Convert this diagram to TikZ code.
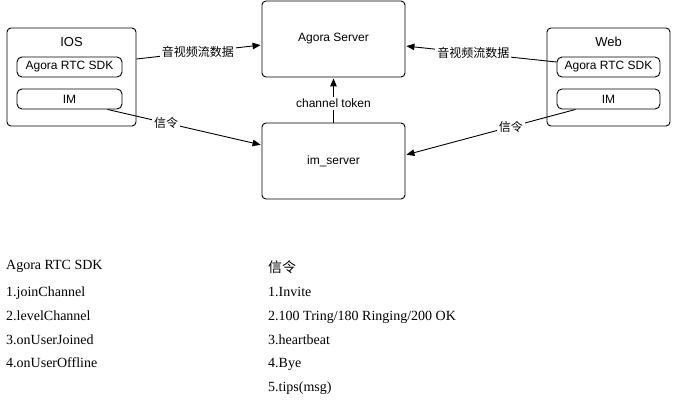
\documentclass[tikz,border=0pt]{standalone}
\usepackage{fontspec}
\setmainfont{Liberation Serif}
\setsansfont{Liberation Sans}
\newfontfamily\cjk{Noto Sans CJK SC}
\usetikzlibrary{arrows.meta}
\begin{document}
\begin{tikzpicture}[x=1pt,y=-1pt,
  box/.style={draw=black,line width=0.9pt,rounded corners=4pt,font=\sffamily\fontsize{12}{14}\selectfont,inner sep=0pt},
  inbox/.style={draw=black,line width=0.9pt,rounded corners=5pt,minimum height=20pt,font=\sffamily\fontsize{12}{14}\selectfont,inner sep=0pt},
  ttl/.style={font=\sffamily\fontsize{13}{15}\selectfont,inner sep=0pt},
  conn/.style={line width=0.9pt,shorten >=1pt,-{Triangle[length=8pt,width=6.5pt]}},
  lbl/.style={fill=white,inner sep=2pt,font=\sffamily\fontsize{12}{14}\selectfont},
  clbl/.style={fill=white,inner sep=2pt,font=\cjk\fontsize{12}{14}\selectfont},
  txt/.style={anchor=base west,inner sep=0pt,font=\rmfamily\fontsize{14}{16}\selectfont},
  ctxt/.style={anchor=base west,inner sep=0pt,font=\cjk\fontsize{14}{16}\selectfont}]
\useasboundingbox (0,0) rectangle (675,401);
% boxes
\node[box,minimum width=143pt,minimum height=76pt] (agora) at (333.5,39) {Agora Server};
\node[box,minimum width=143pt,minimum height=76pt] (imserver) at (333.5,161) {im\_server};
\node[box,minimum width=129pt,minimum height=98pt] (ios) at (71.5,77) {};
\node[box,minimum width=123pt,minimum height=98pt] (web) at (608.5,77) {};
\node[ttl] (iost) at (71.5,42) {IOS};
\node[ttl] (webt) at (608.5,42) {Web};
\node[inbox,minimum width=105pt] (iossdk) at (69.5,67) {Agora RTC SDK};
\node[inbox,minimum width=105pt] (iosim) at (69.5,99) {IM};
\node[inbox,minimum width=103pt] (websdk) at (608.5,67) {Agora RTC SDK};
\node[inbox,minimum width=103pt] (webim) at (608.5,99) {IM};
% connectors
\draw[conn] ([yshift=18pt]ios.east) -- node[clbl,pos=0.49]{音视频流数据} ([yshift=-6pt]agora.west);
\draw[conn] ([yshift=5pt]websdk.west) -- node[clbl,pos=0.55]{音视频流数据} ([yshift=-7pt]agora.east);
\draw[conn] ([xshift=38pt]iosim.south) -- node[clbl,pos=0.38]{信令} ([yshift=16pt]imserver.west);
\draw[conn] ([xshift=-33pt]webim.south) -- node[clbl,pos=0.38]{信令} ([yshift=6pt]imserver.east);
\draw[conn] (imserver.north) -- node[lbl,pos=0.43]{channel token} (agora.south);
% bottom text
\node[txt] (l0) at (6,269.5) {Agora RTC SDK};
\node[txt] (l1) at (6,296) {1.joinChannel};
\node[txt] (l2) at (6,320) {2.levelChannel};
\node[txt] (l3) at (6,344) {3.onUserJoined};
\node[txt] (l4) at (6,367.5) {4.onUserOffline};
\node[ctxt] (r0) at (268,272) {信令};
\node[txt] (r1) at (268,296) {1.Invite};
\node[txt] (r2) at (268,320) {2.100 Tring/180 Ringing/200 OK};
\node[txt] (r3) at (268,344) {3.heartbeat};
\node[txt] (r4) at (268,367.5) {4.Bye};
\node[txt] (r5) at (268,391.5) {5.tips(msg)};
\end{tikzpicture}
\end{document}
